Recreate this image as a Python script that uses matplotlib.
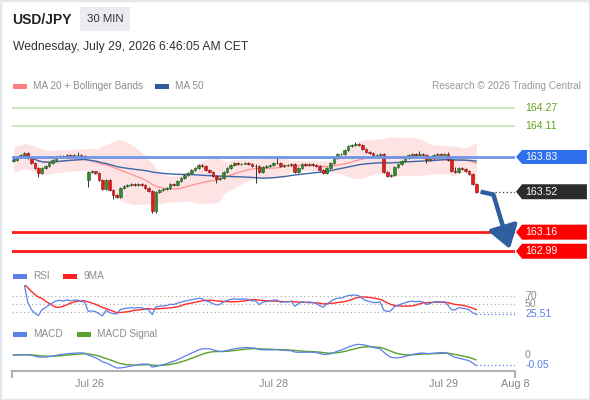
import matplotlib
matplotlib.use("Agg")
import matplotlib.pyplot as plt
from matplotlib.patches import Polygon, Rectangle
import numpy as np
import pandas as pd

plt.rcParams['font.family'] = ['Liberation Sans', 'DejaVu Sans']

# 30 min candles, USD/JPY
closes = [
    163.803, 163.829, 163.847, 163.865, 163.821, 163.776, 163.731, 163.687, 163.731, 163.749,
    163.776, 163.803, 163.829, 163.838, 163.829, 163.847, 163.838, 163.847, 163.847, 163.838,
    163.829, 163.696, 163.701, 163.687, 163.624, 163.544, 163.624, 163.535, 163.491, 163.473,
    163.553, 163.571, 163.580, 163.589, 163.580, 163.589, 163.580, 163.553, 163.526, 163.348,
    163.517, 163.535, 163.544, 163.553, 163.589, 163.580, 163.615, 163.642, 163.669, 163.687,
    163.714, 163.731, 163.758, 163.749, 163.714, 163.696, 163.660, 163.633, 163.642, 163.696,
    163.731, 163.758, 163.776, 163.767, 163.770, 163.776, 163.767, 163.749, 163.752, 163.696,
    163.740, 163.749, 163.758, 163.776, 163.778, 163.749, 163.758, 163.755, 163.767, 163.696,
    163.731, 163.767, 163.758, 163.767, 163.758, 163.749, 163.714, 163.687, 163.731, 163.776,
    163.821, 163.856, 163.853, 163.892, 163.928, 163.936, 163.945, 163.936, 163.901, 163.874,
    163.865, 163.847, 163.850, 163.856, 163.696, 163.660, 163.669, 163.740, 163.767, 163.794,
    163.821, 163.847, 163.856, 163.847, 163.853, 163.847, 163.803, 163.821, 163.847, 163.856,
    163.850, 163.856, 163.803, 163.705, 163.696, 163.731, 163.722, 163.705, 163.678, 163.589,
    163.520,
]
highs = [
    163.812, 163.836, 163.858, 163.874, 163.872, 163.828, 163.781, 163.740, 163.738, 163.757,
    163.783, 163.810, 163.836, 163.846, 163.845, 163.855, 163.853, 163.856, 163.874, 163.852,
    163.845, 163.705, 163.712, 163.708, 163.694, 163.630, 163.632, 163.630, 163.541, 163.498,
    163.560, 163.578, 163.589, 163.598, 163.596, 163.597, 163.595, 163.586, 163.560, 163.533,
    163.524, 163.544, 163.553, 163.562, 163.596, 163.598, 163.622, 163.650, 163.676, 163.695,
    163.721, 163.740, 163.767, 163.766, 163.756, 163.720, 163.702, 163.667, 163.650, 163.704,
    163.739, 163.766, 163.784, 163.783, 163.779, 163.785, 163.782, 163.773, 163.770, 163.758,
    163.748, 163.757, 163.766, 163.785, 163.838, 163.784, 163.766, 163.765, 163.774, 163.772,
    163.738, 163.775, 163.774, 163.776, 163.773, 163.765, 163.755, 163.720, 163.738, 163.783,
    163.829, 163.864, 163.866, 163.900, 163.936, 163.946, 163.963, 163.954, 163.942, 163.908,
    163.881, 163.872, 163.860, 163.866, 163.863, 163.703, 163.680, 163.747, 163.775, 163.802,
    163.829, 163.856, 163.865, 163.863, 163.883, 163.861, 163.853, 163.829, 163.855, 163.864,
    163.865, 163.866, 163.874, 163.810, 163.740, 163.738, 163.738, 163.729, 163.712, 163.685,
    163.596,
]
lows = [
    163.782, 163.798, 163.822, 163.840, 163.815, 163.768, 163.722, 163.651, 163.680, 163.725,
    163.742, 163.770, 163.797, 163.822, 163.821, 163.824, 163.832, 163.833, 163.838, 163.830,
    163.822, 163.562, 163.688, 163.680, 163.617, 163.535, 163.538, 163.526, 163.455, 163.464,
    163.468, 163.546, 163.565, 163.574, 163.574, 163.573, 163.572, 163.546, 163.519, 163.330,
    163.335, 163.510, 163.528, 163.537, 163.546, 163.573, 163.574, 163.608, 163.636, 163.662,
    163.680, 163.707, 163.725, 163.742, 163.707, 163.689, 163.652, 163.598, 163.626, 163.636,
    163.690, 163.724, 163.751, 163.760, 163.761, 163.764, 163.760, 163.742, 163.598, 163.688,
    163.690, 163.733, 163.742, 163.752, 163.770, 163.742, 163.742, 163.748, 163.749, 163.688,
    163.690, 163.725, 163.751, 163.751, 163.751, 163.742, 163.706, 163.679, 163.681, 163.725,
    163.770, 163.815, 163.845, 163.846, 163.886, 163.921, 163.929, 163.928, 163.894, 163.866,
    163.857, 163.840, 163.840, 163.843, 163.688, 163.651, 163.652, 163.662, 163.733, 163.760,
    163.788, 163.815, 163.840, 163.840, 163.841, 163.839, 163.776, 163.796, 163.815, 163.840,
    163.843, 163.844, 163.796, 163.697, 163.688, 163.690, 163.715, 163.697, 163.670, 163.580,
    163.505,
]
first_open = 163.790
gap_opens = {21: 163.624}  # sunday open after the weekend gap

resistances = [164.27, 164.11]
pivot = 163.83
last_label = "163.52"
supports = [163.16, 162.99]
rsi_label = "25.51"
macd_label = "-0.05"
tick_pos = [21.5, 73, 121, 141]
tick_labels = ["Jul 26", "Jul 28", "Jul 29", "Aug 8"]

W, H = 590, 400
XMIN, XMAX = -0.42, 140.87


def box(x0, y0, x1, y1):
    # pixel box (y down from top) -> figure fraction rect
    return [x0 / W, 1 - y1 / H, (x1 - x0) / W, (y1 - y0) / H]


def ftext(x, y, s, **kw):
    kw.setdefault("va", "center")
    fig.text(x / W, 1 - y / H, s, **kw)


def legend_item(x, y, color, label):
    fig.patches.append(Rectangle((x / W, 1 - (y + 2.5) / H), 14 / W, 5 / H,
                                 transform=fig.transFigure, fc=color, ec="none"))
    ftext(x + 20, y, label, fontsize=7.2, color="#8c8c8c")


def price_tag(ax, price, text, color, half_px):
    h = half_px * (ax.get_ylim()[1] - ax.get_ylim()[0]) / (262 - 95)
    pts = [(1.002, price), (1.014, price + h), (1.143, price + h),
           (1.143, price - h), (1.014, price - h)]
    ax.add_patch(Polygon(pts, closed=True, transform=ax.get_yaxis_transform(),
                         clip_on=False, fc=color, ec="none", zorder=5))
    ax.text(1.021, price, text, transform=ax.get_yaxis_transform(), color="white",
            va="center", ha="left", fontsize=7.6, zorder=6)


n = len(closes)
x = np.arange(n)
opens = [first_open] + closes[:-1]
for i, v in gap_opens.items():
    opens[i] = v
o = np.array(opens)
c = np.array(closes)

s = pd.Series(closes)
ma20 = s.rolling(20, min_periods=1).mean()
sd20 = s.rolling(20, min_periods=8).std(ddof=0).bfill()
ma50 = s.rolling(50, min_periods=1).mean()

delta = s.diff().fillna(0)
gain = delta.clip(lower=0).ewm(alpha=1 / 14, adjust=True).mean()
loss = (-delta.clip(upper=0)).ewm(alpha=1 / 14, adjust=True).mean()
rsi = (100 - 100 / (1 + gain / loss.replace(0, np.nan))).fillna(100)
rsi9 = rsi.rolling(9, min_periods=1).mean()
macd = s.ewm(span=12).mean() - s.ewm(span=26).mean()
signal = macd.ewm(span=9).mean()

fig = plt.figure(figsize=(W / 100, H / 100), dpi=100)

# header
fig.patches.append(Rectangle((0, 0), 1, 1, transform=fig.transFigure, fill=False,
                             ec="#e4e7ec", lw=2.5))
ftext(12, 20, "USD/JPY", fontsize=10, fontweight="bold", color="#222222")
fig.patches.append(Rectangle((80 / W, 1 - 31 / H), 50 / W, 24 / H,
                             transform=fig.transFigure, fc="#ebecf0", ec="none"))
ftext(105, 19.5, "30 MIN", fontsize=8.2, color="#333333", ha="center")
ftext(13, 47, "Wednesday, July 29, 2026 6:46:05 AM CET", fontsize=8.7, color="#333333")
legend_item(13, 86, "#ff7f7f", "MA 20 + Bollinger Bands")
legend_item(155, 86, "#2e5a9c", "MA 50")
ftext(581, 86, "Research \u00a9 2026 Trading Central", fontsize=7.2, color="#9a9a9a", ha="right")

# main price panel
ax = fig.add_axes(box(12, 95, 515, 262))
ax.set_xlim(XMIN, XMAX)
ax.set_ylim(162.894, 164.382)
ax.axis("off")

ax.fill_between(x, ma20 - 2 * sd20, ma20 + 2 * sd20, color="#fde3e3", lw=0, zorder=1)
ax.plot(x, ma20, color="#ff9090", lw=0.9, zorder=1.5)
ax.plot(x, ma50, color="#3d66a8", lw=1.0, zorder=1.5)

up = c >= o
body = np.where(np.abs(c - o) < 0.003, 0.003, c - o)
ax.vlines(x, lows, highs, color="#333333", lw=0.7, zorder=2)
ax.bar(x[up], body[up], bottom=o[up], width=0.72, color="#2e8b2e",
       edgecolor="#1f5f1f", lw=0.4, zorder=2.5)
ax.bar(x[~up], body[~up], bottom=o[~up], width=0.72, color="#e51c1c",
       edgecolor="#8b1010", lw=0.4, zorder=2.5)

for r in resistances:
    ax.axhline(r, color="#c9e2b1", lw=1.2, zorder=3)
    ax.text(1.02, r, f"{r:.2f}", transform=ax.get_yaxis_transform(), color="#5fa21f",
            va="center", ha="left", fontsize=7.6)
ax.axhline(pivot, color="#6f95e8", lw=2.0, zorder=3)
for sp in supports:
    ax.axhline(sp, color="#ff1a1a", lw=2.0, zorder=3)

price_tag(ax, pivot, f"{pivot:.2f}", "#2f6fec", 7)
price_tag(ax, closes[-1], last_label, "#2b2b2b", 7.5)
for sp in supports:
    price_tag(ax, sp, f"{sp:.2f}", "#ff0000", 7.5)

# expected path arrow
last = closes[-1]
bend = (n - 1 + 4.8, last - 0.025)
ax.plot([n - 1 + 5.2, XMAX], [last, last], ls=(0, (1, 2)), color="#333333", lw=0.9, zorder=3)
ax.plot([n - 1 + 1.2, bend[0]], [last, bend[1]], color="#2f5f9e", lw=3.2,
        solid_capstyle="butt", zorder=4)
ax.annotate("", xy=(n - 1 + 9.4, supports[1] + 0.02), xytext=bend,
            arrowprops=dict(arrowstyle="-|>,head_width=0.5,head_length=0.75",
                            mutation_scale=18, color="#2f5f9e", lw=3.2,
                            shrinkA=0, shrinkB=0),
            annotation_clip=False, zorder=4)

# RSI panel
legend_item(13, 276, "#5b80e6", "RSI")
legend_item(63, 276, "#ff2020", "9MA")
rax = fig.add_axes(box(12, 285, 515, 318))
rax.set_xlim(XMIN, XMAX)
rax.set_ylim(15, 97.5)
rax.axis("off")
for lvl in (70, 50, 30):
    rax.axhline(lvl, color="#a8a8a8", ls=(0, (1, 2.5)), lw=0.8)
rax.plot(x, rsi9, color="#ff2a2a", lw=1.0)
rax.plot(x, rsi, color="#5b80e6", lw=0.9)
rax.plot([n - 1, XMAX], [rsi.iloc[-1]] * 2, color="#5b80e6", ls=(0, (1, 2)), lw=0.9)
ytr = rax.get_yaxis_transform()
rax.text(1.02, 70, "70", transform=ytr, fontsize=7.6, color="#8c8c8c", va="center")
rax.text(1.02, 50, "50", transform=ytr, fontsize=7.6, color="#8c8c8c", va="center")
rax.text(1.02, float(rsi_label), rsi_label, transform=ytr, fontsize=7.6,
         color="#5b80e6", va="center", zorder=5,
         bbox=dict(fc="white", ec="none", pad=0.3))

# MACD panel
legend_item(13, 334, "#5b80e6", "MACD")
legend_item(77, 334, "#5aa02c", "MACD Signal")
mx = fig.add_axes(box(12, 340, 515, 371))
mx.set_xlim(XMIN, XMAX)
mx.set_ylim(-0.08, 0.075)
mx.patch.set_alpha(0)
for side in ("top", "left", "right"):
    mx.spines[side].set_visible(False)
mx.spines["bottom"].set_color("#b0b0b0")
mx.spines["bottom"].set_linewidth(1.5)
mx.set_yticks([])
mx.plot(x, signal, color="#5aa02c", lw=1.0)
mx.plot(x, macd, color="#5b80e6", lw=0.9)
mx.plot([n - 1, XMAX], [macd.iloc[-1]] * 2, color="#5b80e6", ls=(0, (1, 2)), lw=0.9)
ytr = mx.get_yaxis_transform()
mx.text(1.02, 0, "0", transform=ytr, fontsize=7.6, color="#8c8c8c", va="center")
mx.text(1.02, float(macd_label), macd_label, transform=ytr, fontsize=7.6,
        color="#5b80e6", va="center")
mx.set_xticks(tick_pos)
mx.set_xticklabels(tick_labels)
mx.tick_params(axis="x", length=0, pad=6, labelsize=7.8, labelcolor="#888888")
mx.set_xticks([XMIN, XMAX], minor=True)
mx.tick_params(axis="x", which="minor", length=5, width=1.5, color="#b0b0b0")

fig.savefig("out.png", dpi=100)
